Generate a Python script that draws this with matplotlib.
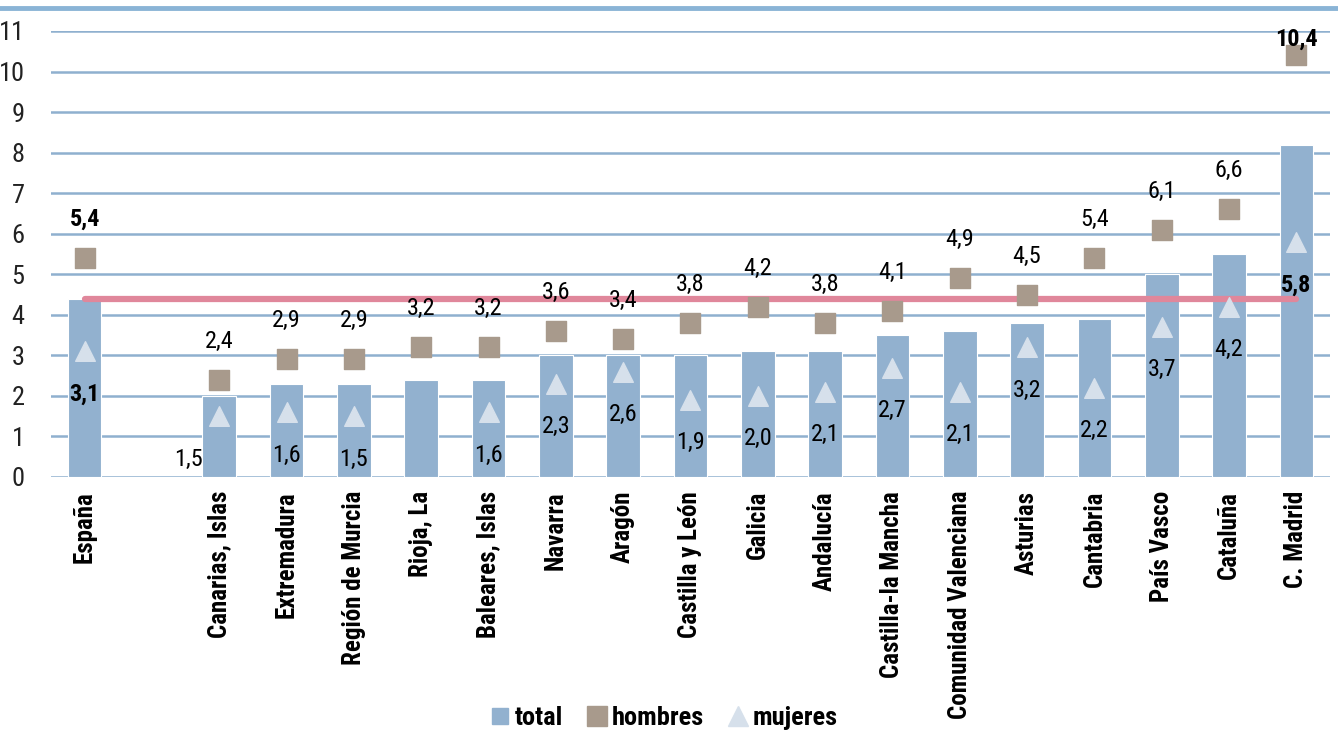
#!/usr/bin/env python

import numpy as np
import matplotlib
matplotlib.use('Agg')
import matplotlib.pyplot as plt
from matplotlib import font_manager
from matplotlib.font_manager import FontProperties
from matplotlib.lines import Line2D

# data (slot 1 is an empty gap between España and the regions)
regiones = ['España', '', 'Canarias, Islas', 'Extremadura', 'Región de Murcia',
            'Rioja, La', 'Baleares, Islas', 'Navarra', 'Aragón',
            'Castilla y León', 'Galicia', 'Andalucía', 'Castilla-la Mancha',
            'Comunidad Valenciana', 'Asturias', 'Cantabria', 'País Vasco',
            'Cataluña', 'C. Madrid']
total = [4.4, None, 2.0, 2.3, 2.3, 2.4, 2.4, 3.0, 3.0, 3.0, 3.1, 3.1, 3.5,
         3.6, 3.8, 3.9, 5.0, 5.5, 8.2]
hombres = [5.4, None, 2.4, 2.9, 2.9, 3.2, 3.2, 3.6, 3.4, 3.8, 4.2, 3.8, 4.1,
           4.9, 4.5, 5.4, 6.1, 6.6, 10.4]
mujeres = [3.1, None, 1.5, 1.6, 1.5, None, 1.6, 2.3, 2.6, 1.9, 2.0, 2.1, 2.7,
           2.1, 3.2, 2.2, 3.7, 4.2, 5.8]
media_espana = 4.4
series = ['total', 'hombres', 'mujeres']

C_BAR = '#92b1cf'
C_HOM = '#a89a8c'
C_MUJ = '#d6e0eb'
C_GRID = '#8fb0cf'
C_LINE = '#e0879b'


def condensed_font(target_weight):
    prefer = ['Roboto Condensed', 'Open Sans Condensed', 'Open Sans',
              'Noto Sans', 'Liberation Sans Narrow', 'DejaVu Sans']
    cands = []
    for f in font_manager.fontManager.ttflist:
        if 'CJK' in f.name or f.style != 'normal':
            continue
        cond = ('condensed' in str(f.stretch) or 'Condensed' in f.name
                or 'Narrow' in f.name or 'Condensed' in f.fname)
        if not cond or 'extra' in str(f.stretch) or 'ultra' in str(f.stretch):
            continue
        try:
            w = int(f.weight)
        except ValueError:
            w = {'normal': 400, 'bold': 700, 'light': 300, 'black': 900,
                 'heavy': 900}.get(f.weight, 400)
        rank = next((i for i, p in enumerate(prefer) if f.name.startswith(p)), 99)
        cands.append((rank, abs(w - target_weight), f.fname))
    if not cands:
        return FontProperties(family='DejaVu Sans',
                              weight='bold' if target_weight > 500 else 'normal')
    cands.sort()
    return FontProperties(fname=cands[0][2])


fp_reg = condensed_font(400)
fp_bold = condensed_font(700)
fp_black = condensed_font(900)

W, H = 1338, 733
fig = plt.figure(figsize=(W / 100, H / 100), dpi=100)
ax = fig.add_axes([51 / W, 1 - 477 / H, (1330 - 51) / W, (477 - 31) / H])

x = np.arange(len(regiones))
tot = np.array([np.nan if v is None else v for v in total])
hom = np.array([np.nan if v is None else v for v in hombres])
muj = np.array([np.nan if v is None else v for v in mujeres])

ax.bar(x, tot, width=0.5, color=C_BAR, edgecolor='white', linewidth=0.8, zorder=2)
ax.plot([x[0], x[-1]], [media_espana, media_espana], color=C_LINE, lw=4.5,
        solid_capstyle='round', zorder=3)
ax.scatter(x, hom, marker='s', s=190, color=C_HOM, zorder=4)
ax.scatter(x, muj, marker='^', s=200, color=C_MUJ, zorder=4)


def fmt(v):
    return f'{v:.1f}'.replace('.', ',')


# data labels
last = len(regiones) - 1
for i in range(len(regiones)):
    bold = i in (0, last)
    fp = (fp_bold if bold else fp_reg).copy()
    fp.set_size(17.5)
    if not np.isnan(hom[i]):
        y = hom[i] + 0.95 if i != last else hom[i] + 0.4
        ax.text(x[i], y, fmt(hom[i]), ha='center', va='center', fontproperties=fp,
                color='black', zorder=5, clip_on=False)
    if not np.isnan(muj[i]):
        xi = x[i] - 0.45 if regiones[i] == 'Canarias, Islas' else x[i]
        ax.text(xi, muj[i] - 1.06, fmt(muj[i]), ha='center', va='center',
                fontproperties=fp, color='black', zorder=5)

ax.set_xlim(-0.5, len(regiones) - 0.5)
ax.set_ylim(0, 11)
ax.set_yticks(range(0, 12))
ax.yaxis.grid(True, color=C_GRID, lw=1.8, zorder=0)
ax.set_axisbelow(True)
for s in ax.spines.values():
    s.set_visible(False)
ax.tick_params(axis='y', length=0, pad=19)
ax.tick_params(axis='x', length=0, pad=10)
fp_tick = fp_reg.copy()
fp_tick.set_size(19)
for lab in ax.get_yticklabels():
    lab.set_fontproperties(fp_tick)
    lab.set_color('#222222')
ax.set_xticks(x)
fp_cat = fp_black.copy()
fp_cat.set_size(18)
ax.set_xticklabels(regiones, rotation=90, va='top', ha='center')
for lab in ax.get_xticklabels():
    lab.set_fontproperties(fp_cat)

# top rule
fig.add_artist(Line2D([0, 1], [1 - 8 / H, 1 - 8 / H], color='#8ab4d6', lw=3.5))

handles = [
    Line2D([], [], marker='s', ls='none', color=C_BAR, markersize=11),
    Line2D([], [], marker='s', ls='none', color=C_HOM, markersize=14),
    Line2D([], [], marker='^', ls='none', color=C_MUJ, markersize=14),
]
fp_leg = fp_black.copy()
fp_leg.set_size(19)
fig.legend(handles, series, loc='center',
           bbox_to_anchor=(0.495, 1 - 718 / H), ncol=3, frameon=False,
           prop=fp_leg, handletextpad=0.05, columnspacing=0.8, handlelength=1.0)

fig.savefig('out.png', dpi=100)
